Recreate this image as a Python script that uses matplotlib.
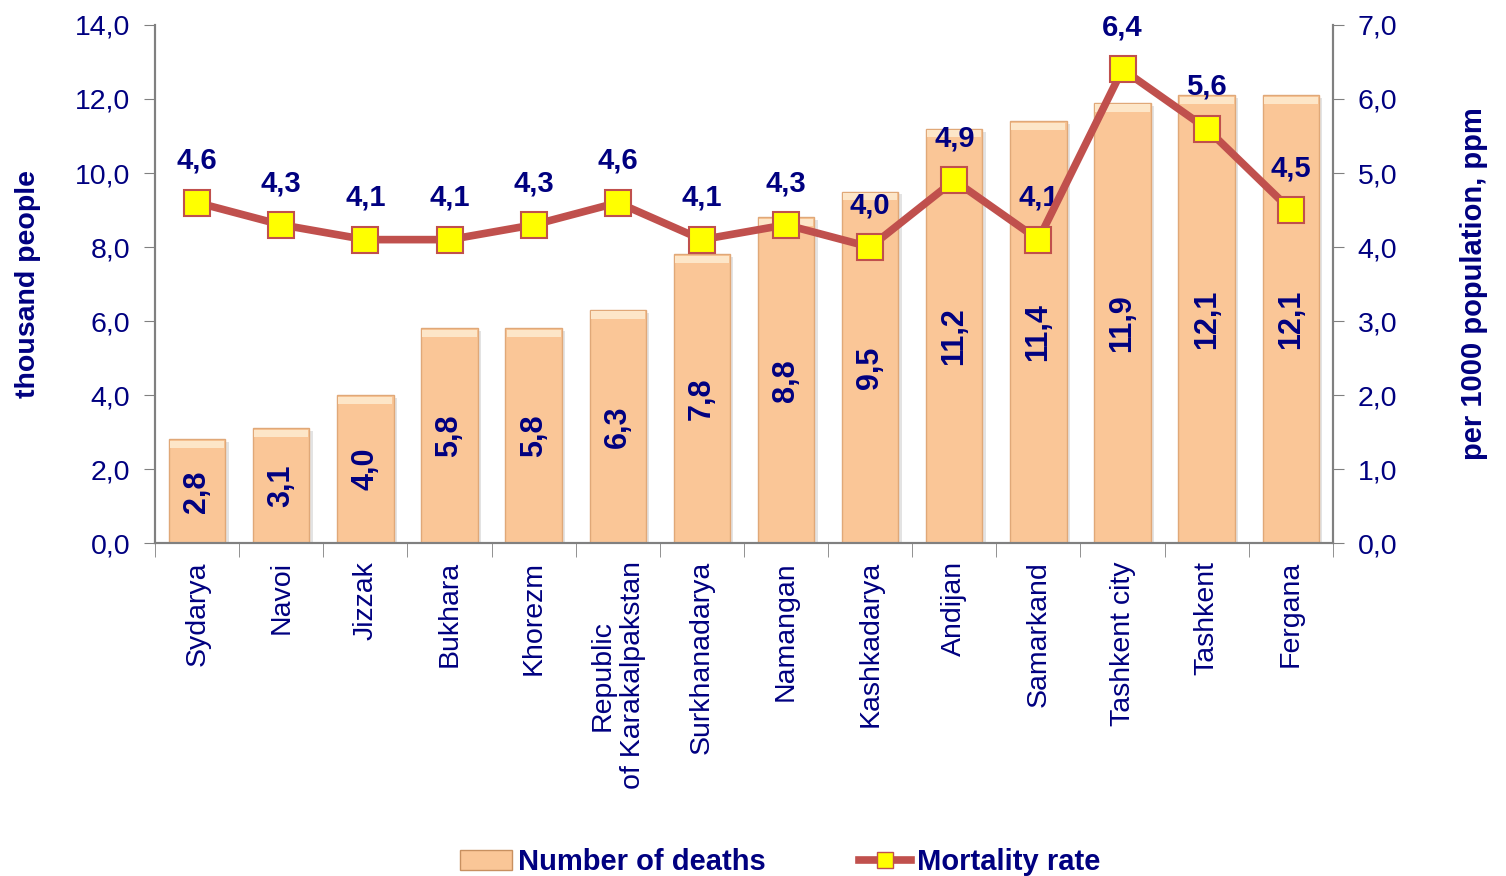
import matplotlib.pyplot as plt
from matplotlib.lines import Line2D
from matplotlib.patches import Patch
import numpy as np

plt.rcParams['font.family'] = ['Liberation Sans', 'DejaVu Sans']

regions = ['Sydarya', 'Navoi', 'Jizzak', 'Bukhara', 'Khorezm',
           'Republic\nof Karakalpakstan', 'Surkhanadarya', 'Namangan',
           'Kashkadarya', 'Andijan', 'Samarkand', 'Tashkent city',
           'Tashkent', 'Fergana']
deaths = [2.8, 3.1, 4.0, 5.8, 5.8, 6.3, 7.8, 8.8, 9.5, 11.2, 11.4, 11.9, 12.1, 12.1]
rate = [4.6, 4.3, 4.1, 4.1, 4.3, 4.6, 4.1, 4.3, 4.0, 4.9, 4.1, 6.4, 5.6, 4.5]

navy = '#000080'
bar_col = '#FAC697'
line_col = '#C0504D'

def fmt(v):
    return f'{v:.1f}'.replace('.', ',')

fig = plt.figure(figsize=(15.06, 8.76), dpi=100)
ax = fig.add_axes([0.103, 0.380, 0.782, 0.5915])
ax2 = ax.twinx()

x = np.arange(len(regions))
w = 0.67

# shadow, bar body and top highlight
ax.bar(x + 0.04, deaths, w, bottom=-0.08, color='#b0b0b0', alpha=0.35, zorder=1)
ax.bar(x, deaths, w, color=bar_col, edgecolor='#E0A878', linewidth=1, zorder=2)
ax.bar(x, [0.2] * len(x), w * 0.96, bottom=np.array(deaths) - 0.24,
       color='#FDE6C8', linewidth=0, zorder=3)

for xi, v in zip(x, deaths):
    ax.text(xi, v / 2, fmt(v), rotation=90, ha='center', va='center',
            color=navy, fontsize=22, fontweight='bold', zorder=4)

ax.set_xlim(-0.5, len(regions) - 0.5)
ax.set_ylim(0, 14)
ax.set_yticks(np.arange(0, 14.1, 2))
ax.set_yticklabels([fmt(v) for v in np.arange(0, 14.1, 2)])
ax.set_xticks(x)
ax.set_xticklabels(regions, rotation=90, va='top', ha='center')
ax.set_xticks(np.arange(-0.5, len(regions), 1), minor=True)
ax.tick_params(axis='x', which='major', length=0, pad=13, labelsize=20.5, labelcolor=navy)
ax.tick_params(axis='x', which='minor', length=10, color='#808080')
ax.tick_params(axis='y', length=8, color='#808080', labelsize=20.5, labelcolor=navy, pad=10)
ax.set_ylabel('thousand people', color=navy, fontsize=20.5, fontweight='bold', labelpad=24)

ax2.plot(x, rate, color=line_col, linewidth=5.5, marker='s', markersize=19,
         markerfacecolor='#FFFF00', markeredgecolor=line_col, markeredgewidth=1.5, zorder=5)
for xi, v in zip(x, rate):
    ax2.annotate(fmt(v), (xi, v), xytext=(0, 20), textcoords='offset points',
                 ha='center', va='bottom', color=navy, fontsize=21, fontweight='bold')
ax2.set_ylim(0, 7)
ax2.set_yticks(np.arange(0, 7.1, 1))
ax2.set_yticklabels([fmt(v) for v in np.arange(0, 7.1, 1)])
ax2.tick_params(axis='y', length=8, color='#808080', labelsize=20.5, labelcolor=navy, pad=10)
ax2.set_ylabel('per 1000 population, ppm', color=navy, fontsize=21, fontweight='bold', labelpad=45)

for a in (ax, ax2):
    a.spines['top'].set_visible(False)
    for s in ('left', 'right', 'bottom'):
        a.spines[s].set_color('#808080')
        a.spines[s].set_linewidth(1.5)
ax.set_zorder(ax2.get_zorder() - 1)
ax2.patch.set_visible(False)

handles = [Patch(facecolor=bar_col, edgecolor='#C89060'),
           Line2D([0], [0], color=line_col, linewidth=5.5, marker='s', markersize=12,
                  markerfacecolor='#FFFF00', markeredgecolor=line_col)]
leg = fig.legend(handles, ['Number of deaths', 'Mortality rate'], loc='lower center',
                 bbox_to_anchor=(0.518, -0.03), ncol=2, frameon=False, columnspacing=3.2,
                 handlelength=1.8, handletextpad=0.2,
                 prop={'size': 21, 'weight': 'bold'})
for t in leg.get_texts():
    t.set_color(navy)

fig.savefig('out.png', dpi=100)
